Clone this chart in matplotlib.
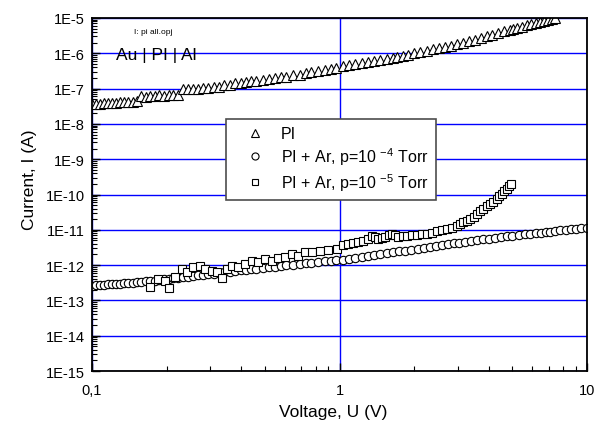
import matplotlib
matplotlib.use('Agg')
import matplotlib.pyplot as plt
from matplotlib.ticker import LogLocator, NullFormatter

plt.rcParams['font.family'] = ['Liberation Sans', 'DejaVu Sans']
plt.rcParams['mathtext.fontset'] = 'custom'
plt.rcParams['mathtext.rm'] = 'Liberation Sans'
plt.rcParams['mathtext.it'] = 'Liberation Sans:italic'

# PI, triangles (voltage V, current nA)
pi_v = [0.100, 0.104, 0.108, 0.112, 0.116, 0.120, 0.125, 0.130, 0.135, 0.140,
        0.146, 0.152, 0.158, 0.165, 0.172, 0.179, 0.187, 0.195, 0.204, 0.213,
        0.223, 0.233, 0.244, 0.256, 0.268, 0.281, 0.295, 0.310, 0.325, 0.340,
        0.360, 0.380, 0.400, 0.420, 0.440, 0.460, 0.490, 0.520, 0.550, 0.580,
        0.610, 0.650, 0.690, 0.730, 0.770, 0.820, 0.870, 0.920, 0.970, 1.03,
        1.09, 1.16, 1.23, 1.30, 1.38, 1.46, 1.55, 1.64, 1.71, 1.80,
        1.90, 2.00, 2.12, 2.25, 2.38, 2.52, 2.67, 2.82, 2.98, 3.15,
        3.33, 3.52, 3.72, 3.93, 4.15, 4.38, 4.62, 4.87, 5.02, 5.20,
        5.45, 5.70, 5.95, 6.20, 6.45, 6.70, 6.95, 7.20, 7.45]
pi_na = [36, 37, 36, 39, 38, 40, 39, 42, 41, 43,
         42, 45, 60, 56, 62, 60, 64, 62, 66, 64,
         68, 98, 95, 100, 98, 105, 102, 110, 108, 130,
         125, 140, 145, 150, 162, 160, 175, 190, 195, 210,
         220, 240, 250, 275, 290, 315, 330, 360, 380, 425,
         455, 491, 528, 565, 608, 651, 700, 750, 790, 850,
         920, 1000, 1090, 1190, 1290, 1410, 1530, 1660, 1810, 1960,
         2190, 2440, 2720, 3030, 3370, 3750, 4170, 4630, 4900, 5230,
         5700, 6190, 6700, 7230, 7770, 8330, 8900, 9500, 10100]

# PI + Ar, p=1e-4 Torr, circles (V, pA)
ar4_v = [0.100, 0.104, 0.108, 0.112, 0.116, 0.120, 0.125, 0.130, 0.135, 0.140,
         0.146, 0.152, 0.158, 0.165, 0.172, 0.179, 0.187, 0.195, 0.204, 0.213,
         0.223, 0.233, 0.244, 0.256, 0.268, 0.281, 0.295, 0.310, 0.325, 0.340,
         0.360, 0.380, 0.400, 0.420, 0.440, 0.460, 0.490, 0.520, 0.550, 0.580,
         0.610, 0.650, 0.690, 0.730, 0.770, 0.820, 0.870, 0.920, 0.970, 1.03,
         1.09, 1.16, 1.23, 1.30, 1.38, 1.46, 1.55, 1.64, 1.74, 1.84,
         1.95, 2.07, 2.19, 2.32, 2.46, 2.60, 2.75, 2.90, 3.05, 3.20,
         3.40, 3.60, 3.80, 4.00, 4.25, 4.50, 4.75, 5.00, 5.30, 5.60,
         5.90, 6.20, 6.50, 6.80, 7.10, 7.40, 7.80, 8.20, 8.60, 9.00,
         9.50, 10.0]
ar4_pa = [0.260, 0.266, 0.271, 0.277, 0.283, 0.288, 0.295, 0.301, 0.308, 0.314,
          0.321, 0.329, 0.336, 0.344, 0.350, 0.365, 0.379, 0.392, 0.407, 0.422,
          0.439, 0.455, 0.472, 0.491, 0.511, 0.531, 0.553, 0.576, 0.598, 0.620,
          0.650, 0.679, 0.708, 0.736, 0.764, 0.792, 0.834, 0.875, 0.910, 0.946,
          0.981, 1.03, 1.07, 1.12, 1.16, 1.21, 1.27, 1.32, 1.37, 1.44,
          1.53, 1.62, 1.72, 1.82, 1.93, 2.04, 2.17, 2.30, 2.44, 2.58,
          2.73, 2.90, 3.07, 3.26, 3.47, 3.67, 3.89, 4.10, 4.33, 4.56,
          4.82, 5.07, 5.32, 5.57, 5.88, 6.18, 6.49, 6.80, 7.11, 7.41,
          7.71, 8.01, 8.30, 8.59, 8.90, 9.18, 9.56, 9.93, 10.3, 10.7,
          11.1, 11.5]

# PI + Ar, p=1e-5 Torr, squares (V, pA)
ar5_v = [0.1715, 0.1848, 0.1972, 0.2047, 0.2164, 0.2310, 0.2420, 0.2559, 0.2731, 0.2861,
         0.3053, 0.3199, 0.3351, 0.3511, 0.3678, 0.3890, 0.4151, 0.4431, 0.4686, 0.5000,
         0.5337, 0.5643, 0.6023, 0.6430, 0.6797, 0.7255, 0.7743, 0.8341, 0.8985, 0.9770,
         1.033, 1.08, 1.134, 1.19, 1.244, 1.30, 1.353, 1.39, 1.431, 1.48,
         1.527, 1.58, 1.630, 1.68, 1.724, 1.80, 1.874, 1.96, 2.056, 2.15,
         2.257, 2.37, 2.477, 2.60, 2.718, 2.85, 2.983, 3.07, 3.155, 3.26,
         3.368, 3.48, 3.594, 3.70, 3.800, 3.93, 4.055, 4.19, 4.328, 4.43,
         4.535, 4.64, 4.751, 4.84, 4.931]
ar5_pa = [0.240, 0.404, 0.355, 0.225, 0.460, 0.776, 0.638, 0.883, 0.943, 0.776,
          0.681, 0.638, 0.431, 0.776, 0.943, 0.883, 1.07, 1.31, 1.22, 1.49,
          1.31, 1.59, 1.70, 2.06, 1.81, 2.35, 2.35, 2.51, 2.68, 2.86,
          3.71, 3.90, 4.23, 4.50, 4.82, 5.60, 6.67, 6.20, 5.48, 6.00,
          6.25, 6.90, 7.60, 6.90, 6.25, 6.50, 6.67, 7.00, 7.13, 7.40,
          7.60, 8.30, 9.25, 9.80, 10.5, 11.5, 12.8, 14.5, 16.6, 18.2,
          20.2, 23.5, 28.0, 33.0, 38.8, 46.0, 53.8, 63.0, 74.6, 88.0,
          103, 122, 143, 170, 198]

y_ticks = [1e-15, 1e-14, 1e-13, 1e-12, 1e-11, 1e-10, 1e-9, 1e-8, 1e-7, 1e-6, 1e-5]
y_labels = ['1E-15', '1E-14', '1E-13', '1E-12', '1E-11', '1E-10', '1E-9',
            '1E-8', '1E-7', '1E-6', '1E-5']
x_ticks = [0.1, 1, 10]
x_labels = ['0,1', '1', '10']

pi_i = [v * 1e-9 for v in pi_na]
ar4_i = [v * 1e-12 for v in ar4_pa]
ar5_i = [v * 1e-12 for v in ar5_pa]

fig = plt.figure(figsize=(6.02, 4.27), dpi=100)
ax = fig.add_axes([92 / 602, 55 / 427, 495 / 602, 353 / 427])
ax.set_xscale('log')
ax.set_yscale('log')
ax.set_xlim(0.1, 10)
ax.set_ylim(1e-15, 1e-5)

ax.set_yticks(y_ticks)
ax.set_yticklabels(y_labels)
ax.set_xticks(x_ticks)
ax.set_xticklabels(x_labels)
ax.yaxis.set_minor_locator(LogLocator(base=10, subs=range(2, 10), numticks=100))
ax.yaxis.set_minor_formatter(NullFormatter())
ax.xaxis.set_minor_formatter(NullFormatter())
ax.tick_params(which='both', direction='in', top=False, right=False, labelsize=10.5)
ax.tick_params(which='major', length=6, width=1)
ax.tick_params(which='minor', length=3.5, width=0.8)
ax.tick_params(axis='y', pad=5)
ax.tick_params(axis='x', pad=9)

ax.set_axisbelow(True)
ax.grid(True, which='major', color='#0000ff', lw=1)
for s in ax.spines.values():
    s.set_linewidth(1.3)

mk = dict(ls='none', mfc='white', mec='black', mew=0.8)
h1, = ax.plot(pi_v, pi_i, marker='^', ms=6.5, **mk)
h2, = ax.plot(ar4_v, ar4_i, marker='o', ms=6.0, **mk)
h3, = ax.plot(ar5_v, ar5_i, marker='s', ms=5.8, **mk)

leg = ax.legend([h1, h2, h3],
                ['PI', 'PI + Ar, p=10 $^{-4}$ Torr', 'PI + Ar, p=10 $^{-5}$ Torr'],
                loc='upper left', bbox_to_anchor=(226 / 602, 1 - 120 / 427),
                bbox_transform=fig.transFigure, borderaxespad=0,
                fancybox=False, edgecolor='0.3', framealpha=1, fontsize=11.5,
                handlelength=2.7, handletextpad=0.3, borderpad=0.45, labelspacing=0.25,
                markerscale=0.85)
leg.get_frame().set_linewidth(1.2)

ax.text(0.085, 0.963, 'I: pi all.opj', transform=ax.transAxes, fontsize=6, va='center')
ax.text(0.048, 0.898, 'Au | PI | Al', transform=ax.transAxes, fontsize=12.5, va='center')

ax.set_xlabel('Voltage, U (V)', fontsize=12.5)
ax.set_ylabel('Current, I (A)', fontsize=12.5)
ax.xaxis.set_label_coords(0.487, -0.093)
ax.yaxis.set_label_coords(-0.111, 0.544)

fig.savefig('out.png', dpi=100)
